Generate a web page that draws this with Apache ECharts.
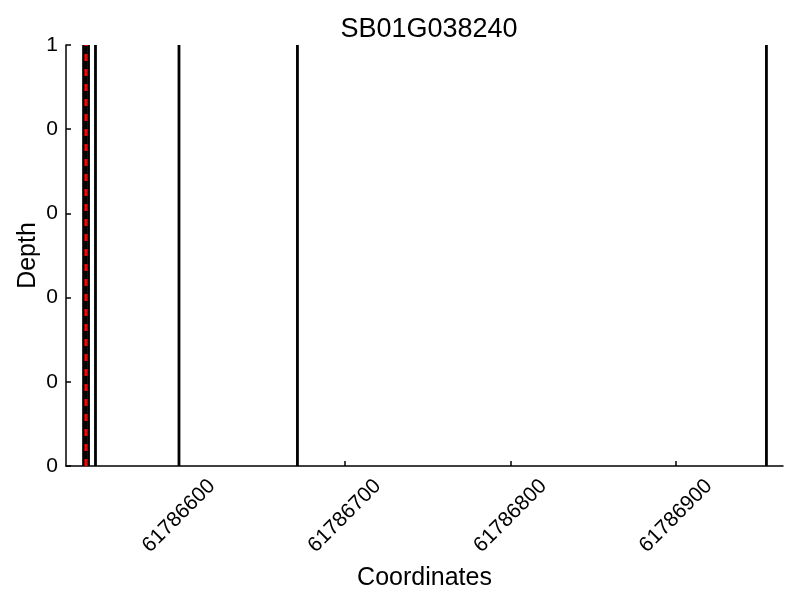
<!DOCTYPE html>
<html>
<head>
<meta charset="utf-8">
<script src="https://cdn.jsdelivr.net/npm/echarts@6/dist/echarts.min.js"></script>
<style>
html,body{margin:0;padding:0;background:#fff;}
#chart{width:800px;height:600px;}
</style>
</head>
<body>
<div id="chart"></div>
<script>
// chart values
var chartTitle = 'SB01G038240';
var blackLines = [61786542.4, 61786543.9, 61786545.4, 61786549.6, 61786600, 61786671.5, 61786954.6];
var redLines = [61786543.9];
var xTicks = [61786600, 61786700, 61786800, 61786900];
var yTicks = [0, 0.2, 0.4, 0.6, 0.8, 1];
var yTickLabels = ['0', '0', '0', '0', '0', '1'];
var xMin = 61786531.8, xMax = 61786964.6;

var font = 'Liberation Sans';

var series = [];
blackLines.forEach(function (x) {
  series.push({
    type: 'line', symbol: 'none', silent: true, z: 2,
    data: [[x, 0], [x, 1]],
    lineStyle: {color: '#000', width: 2.8}
  });
});
redLines.forEach(function (x) {
  series.push({
    type: 'line', symbol: 'none', silent: true, z: 3,
    data: [[x, 0], [x, 1]],
    lineStyle: {color: '#ff0000', width: 3, type: [7, 8]}
  });
});

var myChart = echarts.init(document.getElementById('chart'));
myChart.setOption({
  animation: false,
  title: {
    text: chartTitle, left: 424, top: 11, textAlign: 'center',
    textStyle: {fontFamily: font, fontSize: 27, fontWeight: 'normal', color: '#000'}
  },
  grid: {left: 66, right: 17, top: 45, bottom: 134},
  xAxis: {
    type: 'value', min: xMin, max: xMax,
    name: 'Coordinates', nameLocation: 'middle', nameGap: 100, nameMoveOverlap: false,
    nameTextStyle: {fontFamily: font, fontSize: 25, color: '#000'},
    axisLine: {lineStyle: {color: '#000', width: 1.5}},
    axisTick: {inside: true, length: 5, customValues: xTicks, lineStyle: {color: '#000', width: 1.5}},
    axisLabel: {
      customValues: xTicks, rotate: 45, align: 'center', verticalAlign: 'middle', margin: 50,
      fontFamily: font, fontSize: 21, color: '#000',
      formatter: function (v) { return String(Math.round(v)); }
    },
    splitLine: {show: false}
  },
  yAxis: {
    type: 'value', min: 0, max: 1, interval: 0.2,
    name: 'Depth', nameLocation: 'middle', nameGap: 25, nameMoveOverlap: false,
    nameTextStyle: {fontFamily: font, fontSize: 25, color: '#000'},
    axisLine: {show: true, lineStyle: {color: '#000', width: 1.5}},
    axisTick: {show: true, inside: true, length: 5, lineStyle: {color: '#000', width: 1.5}},
    axisLabel: {
      margin: 8, fontFamily: font, fontSize: 21, color: '#000',
      formatter: function (v) {
        var i = yTicks.findIndex(function (t) { return Math.abs(t - v) < 1e-6; });
        return i >= 0 ? yTickLabels[i] : '';
      }
    },
    splitLine: {show: false}
  },
  series: series
});
</script>
</body>
</html>
